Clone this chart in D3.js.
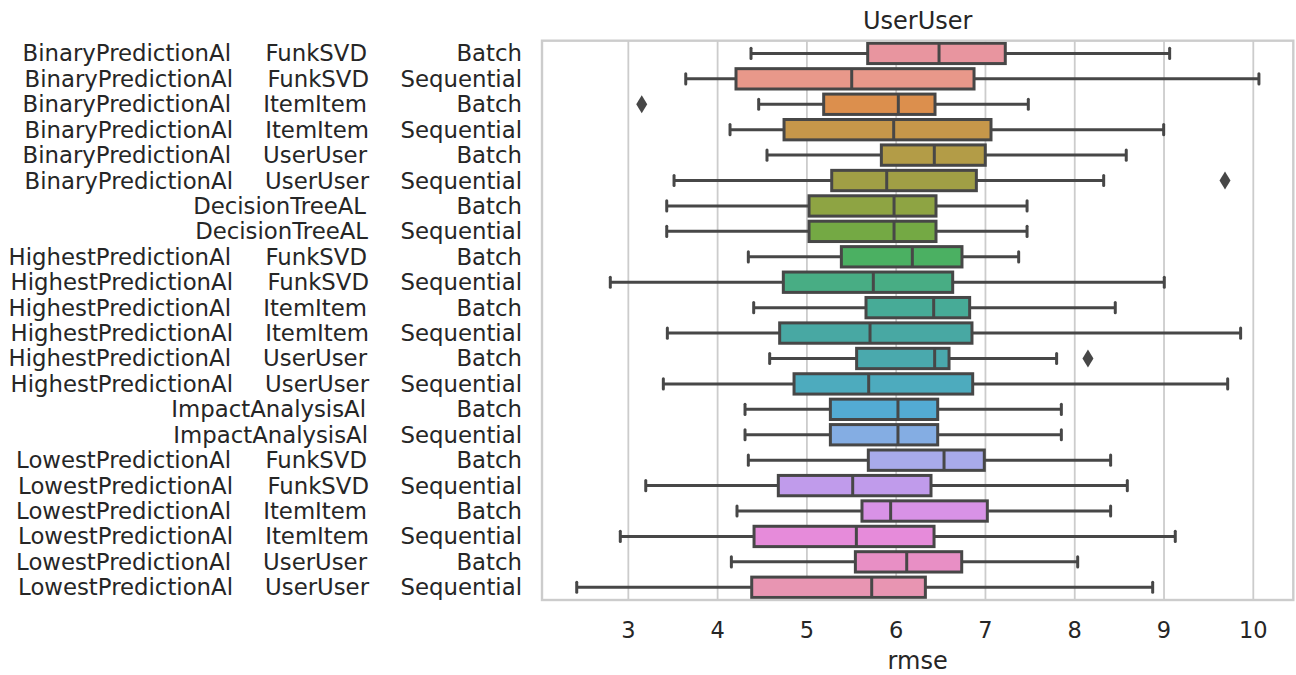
<!DOCTYPE html>
<html>
<head>
<meta charset="utf-8">
<script src="https://cdn.jsdelivr.net/npm/d3@7"></script>
<style>
  body { margin: 0; background: #fff; }
  text { font-family: "DejaVu Sans", sans-serif; fill: #262626; }
</style>
</head>
<body>
<div id="chart"></div>
<script>
// row labels: learner, sub-model, strategy
var learners = ["BinaryPredictionAl", "BinaryPredictionAl", "BinaryPredictionAl", "BinaryPredictionAl",
    "BinaryPredictionAl", "BinaryPredictionAl", "DecisionTreeAL", "DecisionTreeAL",
    "HighestPredictionAl", "HighestPredictionAl", "HighestPredictionAl", "HighestPredictionAl",
    "HighestPredictionAl", "HighestPredictionAl", "ImpactAnalysisAl", "ImpactAnalysisAl",
    "LowestPredictionAl", "LowestPredictionAl", "LowestPredictionAl", "LowestPredictionAl",
    "LowestPredictionAl", "LowestPredictionAl"];
var models = ["FunkSVD", "FunkSVD", "ItemItem", "ItemItem", "UserUser", "UserUser", "", "",
    "FunkSVD", "FunkSVD", "ItemItem", "ItemItem", "UserUser", "UserUser", "", "",
    "FunkSVD", "FunkSVD", "ItemItem", "ItemItem", "UserUser", "UserUser"];
var strategies = ["Batch", "Sequential", "Batch", "Sequential", "Batch", "Sequential",
    "Batch", "Sequential", "Batch", "Sequential", "Batch", "Sequential",
    "Batch", "Sequential", "Batch", "Sequential", "Batch", "Sequential",
    "Batch", "Sequential", "Batch", "Sequential"];

// box statistics (rmse)
var whiskLow = [4.374, 3.643, 4.460, 4.139, 4.553, 3.512, 3.430, 3.430, 4.344, 2.798, 4.404,
    3.437, 4.583, 3.392, 4.307, 4.307, 4.344, 3.195, 4.217, 2.910, 4.154, 2.422];
var q1 = [5.681, 4.206, 5.188, 4.744, 5.834, 5.278, 5.024, 5.024, 5.386, 4.736, 5.662,
    4.695, 5.557, 4.856, 5.263, 5.263, 5.688, 4.680, 5.617, 4.408, 5.543, 4.382];
var median = [6.480, 5.502, 6.024, 5.972, 6.427, 5.894, 5.976, 5.976, 6.181, 5.744, 6.420,
    5.707, 6.431, 5.692, 6.020, 6.020, 6.536, 5.513, 5.938, 5.554, 6.118, 5.726];
var q3 = [7.222, 6.872, 6.435, 7.062, 6.998, 6.898, 6.446, 6.446, 6.737, 6.633, 6.823,
    6.849, 6.592, 6.857, 6.465, 6.465, 6.987, 6.390, 7.021, 6.424, 6.734, 6.327];
var whiskHigh = [9.063, 10.063, 7.480, 8.996, 8.577, 8.324, 7.466, 7.466, 7.372, 9.003, 8.454,
    9.858, 7.797, 9.713, 7.850, 7.850, 8.402, 8.589, 8.402, 9.126, 8.033, 8.873];
var outlierRow = [2, 5, 12];
var outlierValue = [3.150, 9.683, 8.148];

var xTicks = [3, 4, 5, 6, 7, 8, 9, 10];

var palette = ["#e8959f", "#e8988a", "#dc8f4d", "#c6974a", "#b39c47", "#a09f45", "#8ea443",
    "#74a944", "#4bb062", "#48ad84", "#47ab97", "#48a8a3", "#4aa9ad", "#4dabbe", "#53abd3",
    "#84ade3", "#a8aaea", "#c09beb", "#d892e6", "#e68bda", "#e88fc5", "#e895b2"];

var W = 1296, H = 675,
    LEFT = 542, RIGHT = 1293.3, TOP = 40.7, BOTTOM = 600,
    LINE = "#474747";

var svg = d3.select("#chart").append("svg")
    .attr("width", W)
    .attr("height", H);

var x = d3.scaleLinear().domain([2.033, 10.448]).range([LEFT, RIGHT]);
var rows = d3.range(learners.length);
var y = d3.scaleBand().domain(rows).range([TOP, BOTTOM]);
var bh = y.bandwidth() * 0.8;

// grid
svg.append("g").selectAll("line")
    .data(xTicks)
    .enter().append("line")
    .attr("x1", function (d) { return x(d); })
    .attr("x2", function (d) { return x(d); })
    .attr("y1", TOP)
    .attr("y2", BOTTOM)
    .attr("stroke", "#cccccc")
    .attr("stroke-width", 1.8);

var cy = function (i) { return y(i) + y.bandwidth() / 2; };

var g = svg.append("g");

// whiskers
g.selectAll(".wl")
    .data(rows)
    .enter().append("line")
    .attr("x1", function (i) { return x(whiskLow[i]); })
    .attr("x2", function (i) { return x(q1[i]); })
    .attr("y1", cy).attr("y2", cy)
    .attr("stroke", LINE).attr("stroke-width", 3);

g.selectAll(".wh")
    .data(rows)
    .enter().append("line")
    .attr("x1", function (i) { return x(q3[i]); })
    .attr("x2", function (i) { return x(whiskHigh[i]); })
    .attr("y1", cy).attr("y2", cy)
    .attr("stroke", LINE).attr("stroke-width", 3);

// caps
[whiskLow, whiskHigh].forEach(function (arr) {
    g.selectAll(null)
        .data(rows)
        .enter().append("line")
        .attr("x1", function (i) { return x(arr[i]); })
        .attr("x2", function (i) { return x(arr[i]); })
        .attr("y1", function (i) { return cy(i) - bh / 4; })
        .attr("y2", function (i) { return cy(i) + bh / 4; })
        .attr("stroke", LINE)
        .attr("stroke-width", 3)
        .attr("stroke-linecap", "round");
});

// boxes
g.selectAll("rect")
    .data(rows)
    .enter().append("rect")
    .attr("x", function (i) { return x(q1[i]); })
    .attr("width", function (i) { return x(q3[i]) - x(q1[i]); })
    .attr("y", function (i) { return cy(i) - bh / 2; })
    .attr("height", bh)
    .attr("fill", function (i) { return palette[i]; })
    .attr("stroke", LINE)
    .attr("stroke-width", 3);

// medians
g.selectAll(".med")
    .data(rows)
    .enter().append("line")
    .attr("x1", function (i) { return x(median[i]); })
    .attr("x2", function (i) { return x(median[i]); })
    .attr("y1", function (i) { return cy(i) - bh / 2; })
    .attr("y2", function (i) { return cy(i) + bh / 2; })
    .attr("stroke", LINE)
    .attr("stroke-width", 3);

// outliers (thin diamonds)
g.selectAll("path")
    .data(outlierRow)
    .enter().append("path")
    .attr("d", function (r, k) {
        var px = x(outlierValue[k]), py = cy(r);
        return "M" + px + "," + (py - 9) + "L" + (px + 5.5) + "," + py +
            "L" + px + "," + (py + 9) + "L" + (px - 5.5) + "," + py + "Z";
    })
    .attr("fill", LINE);

// frame
svg.append("rect")
    .attr("x", LEFT).attr("y", TOP)
    .attr("width", RIGHT - LEFT).attr("height", BOTTOM - TOP)
    .attr("fill", "none")
    .attr("stroke", "#cccccc")
    .attr("stroke-width", 2.4);

// x tick labels
svg.append("g").selectAll("text")
    .data(xTicks)
    .enter().append("text")
    .attr("x", function (d) { return x(d); })
    .attr("y", 637.5)
    .attr("text-anchor", "middle")
    .style("font-size", "22.5px")
    .text(function (d) { return d; });

// y labels
var ylab = svg.append("g").style("font-size", "22.8px");
rows.forEach(function (i) {
    var base = cy(i) + 8,
        shift = strategies[i] === "Sequential" ? 2 : 0;
    ylab.append("text")
        .attr("x", 522).attr("y", base)
        .attr("text-anchor", "end")
        .text(strategies[i]);
    if (models[i]) {
        ylab.append("text")
            .attr("x", 367 + shift).attr("y", base)
            .attr("text-anchor", "end")
            .text(models[i]);
        ylab.append("text")
            .attr("x", 231 + shift).attr("y", base)
            .attr("text-anchor", "end")
            .text(learners[i]);
    } else {
        ylab.append("text")
            .attr("x", 366 + shift).attr("y", base)
            .attr("text-anchor", "end")
            .text(learners[i]);
    }
});

// title and axis label
svg.append("text")
    .attr("x", (LEFT + RIGHT) / 2).attr("y", 29)
    .attr("text-anchor", "middle")
    .style("font-size", "24px")
    .text("UserUser");

svg.append("text")
    .attr("x", (LEFT + RIGHT) / 2).attr("y", 669)
    .attr("text-anchor", "middle")
    .style("font-size", "24px")
    .text("rmse");
</script>
</body>
</html>
